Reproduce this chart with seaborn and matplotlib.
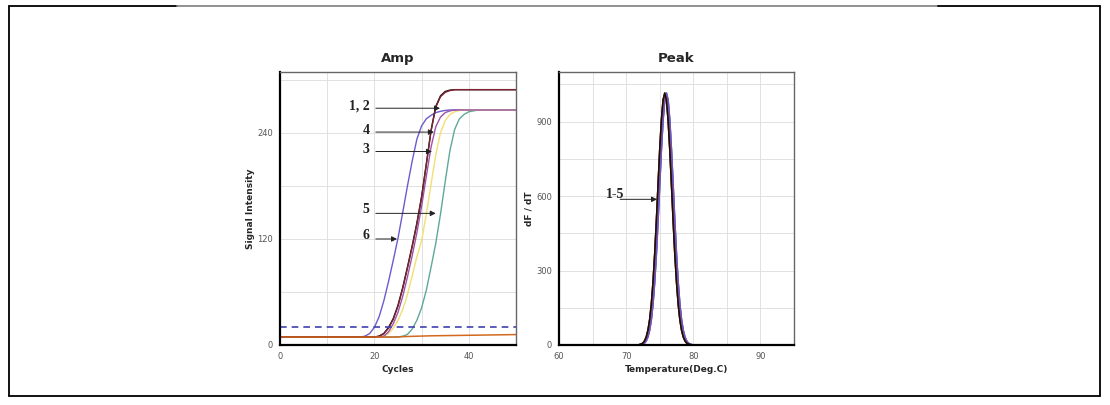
import matplotlib
matplotlib.use("Agg")
import matplotlib.pyplot as plt
import seaborn as sns
import pandas as pd
from matplotlib.lines import Line2D
from matplotlib.ticker import MultipleLocator

# ---------------- data ----------------
cycles = list(range(51))

amp_6_purple = [9]*18 + [10, 13, 20, 32, 50, 72, 96, 121, 150, 180, 208, 233, 248, 256, 260, 263, 264.5, 265.5] + [266]*15
amp_1_black = [9]*21 + [10, 13, 20, 30, 45, 65, 88, 112, 138, 168, 205, 243, 270, 282, 287, 288.5] + [289]*14
amp_2_red = [9]*21 + [10, 13, 19, 29, 44, 64, 87, 111, 137, 167, 204, 242, 269, 281, 286, 288] + [289]*14
amp_4_magenta = [9]*22 + [10, 15, 24, 37, 55, 77, 101, 127, 157, 191, 224, 247, 258, 263, 265] + [266]*14
amp_3_yellow = [9]*22 + [10, 13, 19, 28, 40, 57, 78, 100, 118, 148, 182, 215, 240, 254, 261, 264, 265.5] + [266]*12
amp_5_teal = [9]*26 + [10, 12, 18, 28, 42, 62, 88, 115, 148, 185, 220, 244, 256, 261, 264, 265] + [266]*9

neg_cycles = [0, 24, 28, 32, 40, 50]
neg_orange = [9, 9, 9.8, 10.4, 11, 11.8]

threshold = 20

amp_labels = ["1, 2", "4", "3", "5", "6"]

temps = [60.0, 71.5, 71.75, 72.0, 72.25, 72.5, 72.75, 73.0, 73.25, 73.5, 73.75,
         74.0, 74.25, 74.5, 74.75, 75.0, 75.25, 75.5, 75.75, 76.0, 76.25,
         76.5, 76.75, 77.0, 77.25, 77.5, 77.75, 78.0, 78.25, 78.5, 78.75,
         79.0, 79.25, 79.5, 79.75, 80.0, 80.25, 80.5, 95.0]
peak_left = [0, 0, 0, 2, 4, 8, 17, 33, 60, 102, 165, 253, 365, 499, 645, 787, 906, 987, 1015,
             987, 906, 787, 645, 499, 365, 253, 165, 102, 60, 33, 17, 8, 4, 2, 0, 0, 0, 0, 0]
peak_right = [0, 0, 0, 0, 2, 4, 8, 17, 33, 60, 102, 165, 253, 365, 499, 645, 787, 906, 987,
              1015, 987, 906, 787, 645, 499, 365, 253, 165, 102, 60, 33, 17, 8, 4, 2, 0, 0, 0, 0]

# ---------------- style ----------------
sns.set_style("white")
plt.rcParams["font.family"] = ["DejaVu Sans"]

fig = plt.figure(figsize=(11.1, 4.05), dpi=100)
ax1 = fig.add_axes([280/1110, 1-345/405, (516-280)/1110, (345-72)/405])
ax2 = fig.add_axes([559/1110, 1-345/405, (794-559)/1110, (345-72)/405])

grid_c = "#dcdcdc"

def style_axes(ax):
    ax.set_axisbelow(True)
    ax.grid(True, which="both", color=grid_c, lw=0.6)
    for s in ["left", "bottom"]:
        ax.spines[s].set_color("black")
        ax.spines[s].set_linewidth(1.6)
    for s in ["top", "right"]:
        ax.spines[s].set_color("#666666")
        ax.spines[s].set_linewidth(1.0)
    ax.tick_params(which="major", length=3, width=0.8, labelsize=6, labelcolor="#555555",
                   color="#333333", direction="out", pad=2)
    ax.tick_params(which="minor", length=2, width=0.6, color="#333333", direction="out")

# ---------------- Amp ----------------
amp_series = [
    (amp_6_purple, "#6a5ccf"),
    (amp_5_teal, "#5fa899"),
    (amp_3_yellow, "#f2df72"),
    (amp_4_magenta, "#9b55a8"),
    (amp_1_black, "#111111"),
    (amp_2_red, "#7e2230"),
]
for vals, col in amp_series:
    sns.lineplot(x=cycles, y=vals, ax=ax1, color=col, lw=1.0, estimator=None, sort=False)
sns.lineplot(x=neg_cycles, y=neg_orange, ax=ax1, color="#d2691e", lw=1.1, estimator=None, sort=False)
ax1.axhline(threshold, color="#4040b0", lw=1.2, ls=(0, (4, 3)))

ax1.set_xlim(0, 50)
ax1.set_ylim(0, 309)
ax1.xaxis.set_major_locator(MultipleLocator(20))
ax1.xaxis.set_minor_locator(MultipleLocator(10))
ax1.yaxis.set_major_locator(MultipleLocator(120))
ax1.yaxis.set_minor_locator(MultipleLocator(60))
style_axes(ax1)
ax1.set_title("Amp", fontsize=9.5, fontweight="bold", pad=7)
ax1.set_xlabel("Cycles", fontsize=6.5, fontweight="bold", labelpad=3)
ax1.set_ylabel("Signal Intensity", fontsize=6.5, fontweight="bold", labelpad=2)

serif = dict(family="Liberation Serif", fontweight="bold", fontsize=10, color="#222222")
ann = [
    (19.0, 270, 20.3, 33.9, 268),
    (19.0, 243, 20.3, 32.6, 241),
    (19.0, 221, 20.3, 32.2, 219),
    (19.0, 153, 20.3, 33.0, 149),
    (19.0, 124, 20.3, 24.8, 120),
]
for lab, (tx, ty, x0, x1, y) in zip(amp_labels, ann):
    ax1.text(tx, ty, lab, ha="right", va="center", **serif)
    ax1.annotate("", xy=(x1, y), xytext=(x0, y),
                 arrowprops=dict(arrowstyle="-|>", color="#222222", lw=0.7,
                                 mutation_scale=8, shrinkA=0, shrinkB=0))

# ---------------- Peak ----------------
peak_series = [
    (peak_left, "#f2d86a"),
    (peak_right, "#5fb0a0"),
    (peak_right, "#3a6fd0"),
    (peak_right, "#7a4fc0"),
    (peak_left, "#d2691e"),
    (peak_left, "#8b2030"),
    (peak_left, "#111111"),
]
for vals, col in peak_series:
    sns.lineplot(x=temps, y=vals, ax=ax2, color=col, lw=1.1, estimator=None, sort=False)

ax2.set_xlim(60, 95)
ax2.set_ylim(0, 1100)
ax2.xaxis.set_major_locator(MultipleLocator(10))
ax2.xaxis.set_minor_locator(MultipleLocator(5))
ax2.yaxis.set_major_locator(MultipleLocator(300))
ax2.yaxis.set_minor_locator(MultipleLocator(150))
style_axes(ax2)
ax2.set_title("Peak", fontsize=9.5, fontweight="bold", pad=7)
ax2.set_xlabel("Temperature(Deg.C)", fontsize=6.5, fontweight="bold", labelpad=3)
ax2.set_ylabel("dF / dT", fontsize=6.5, fontweight="bold", labelpad=2)

ax2.text(69.8, 605, "1-5", ha="right", va="center", **serif)
ax2.annotate("", xy=(74.6, 587), xytext=(69.1, 587),
             arrowprops=dict(arrowstyle="-|>", color="#222222", lw=0.7,
                             mutation_scale=8, shrinkA=0, shrinkB=0))

# ---------------- outer frame ----------------
def fx(p): return p/1110
def fy(p): return 1 - p/405
frame = [
    ((9, 177), (6, 6), "black"),
    ((177, 938), (6, 6), "#888888"),
    ((938, 1100), (6, 6), "black"),
    ((9, 9), (6, 396), "black"),
    ((1100, 1100), (6, 396), "black"),
    ((9, 1100), (396, 396), "black"),
]
for xs, ys, c in frame:
    fig.add_artist(Line2D([fx(xs[0]), fx(xs[1])], [fy(ys[0]), fy(ys[1])],
                          color=c, lw=1.3, transform=fig.transFigure))

fig.savefig("out.png", dpi=100, facecolor="white")
